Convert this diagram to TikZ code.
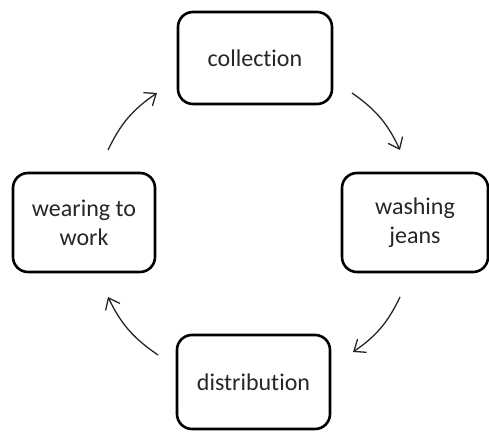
\documentclass[tikz,border=0pt]{standalone}
\usepackage{fontspec}
\setmainfont{Carlito}[Ligatures=NoCommon]
\usepackage{tikz}
\usetikzlibrary{arrows.meta}
\tikzset{every node/.append style={font=\fontsize{24}{29}\selectfont}}
\tikzset{
  stage/.style={draw, line width=2.6pt, rounded corners=15pt, align=center, inner sep=0pt, text=black!85},
  flow/.style={line width=1.3pt, black!85, -{Straight Barb[length=10pt, width=16pt, line width=1.3pt]}}
}

\begin{document}
\begin{tikzpicture}[x=1pt, y=1pt]
    \useasboundingbox (0,0) rectangle (489,433);
    % the four stages
    \node[stage, minimum width=154pt, minimum height=92pt] (collect) at (255,375) {collection};
    \node[stage, minimum width=146pt, minimum height=99pt] (wash) at (415,210.5) {washing\\jeans};
    \node[stage, minimum width=153pt, minimum height=94pt] (dist) at (253.5,51) {distribution};
    \node[stage, minimum width=142pt, minimum height=99pt] (wear) at (84,210.5) {wearing to\\work};
    % arrow ends between the boxes
    \coordinate (a1) at (108,283);
    \coordinate (b1) at (157,340);
    \coordinate (a2) at (352,340);
    \coordinate (b2) at (400,283);
    \coordinate (a3) at (400,136);
    \coordinate (b3) at (353,81);
    \coordinate (a4) at (158,78);
    \coordinate (b4) at (108,136);
    % the cycle
    \draw[flow] (a1) to[bend left=15] (b1);
    \draw[flow] (a2) to[bend left=15] (b2);
    \draw[flow] (a3) to[bend left=15] (b3);
    \draw[flow] (a4) to[bend left=15] (b4);
\end{tikzpicture}
\end{document}
